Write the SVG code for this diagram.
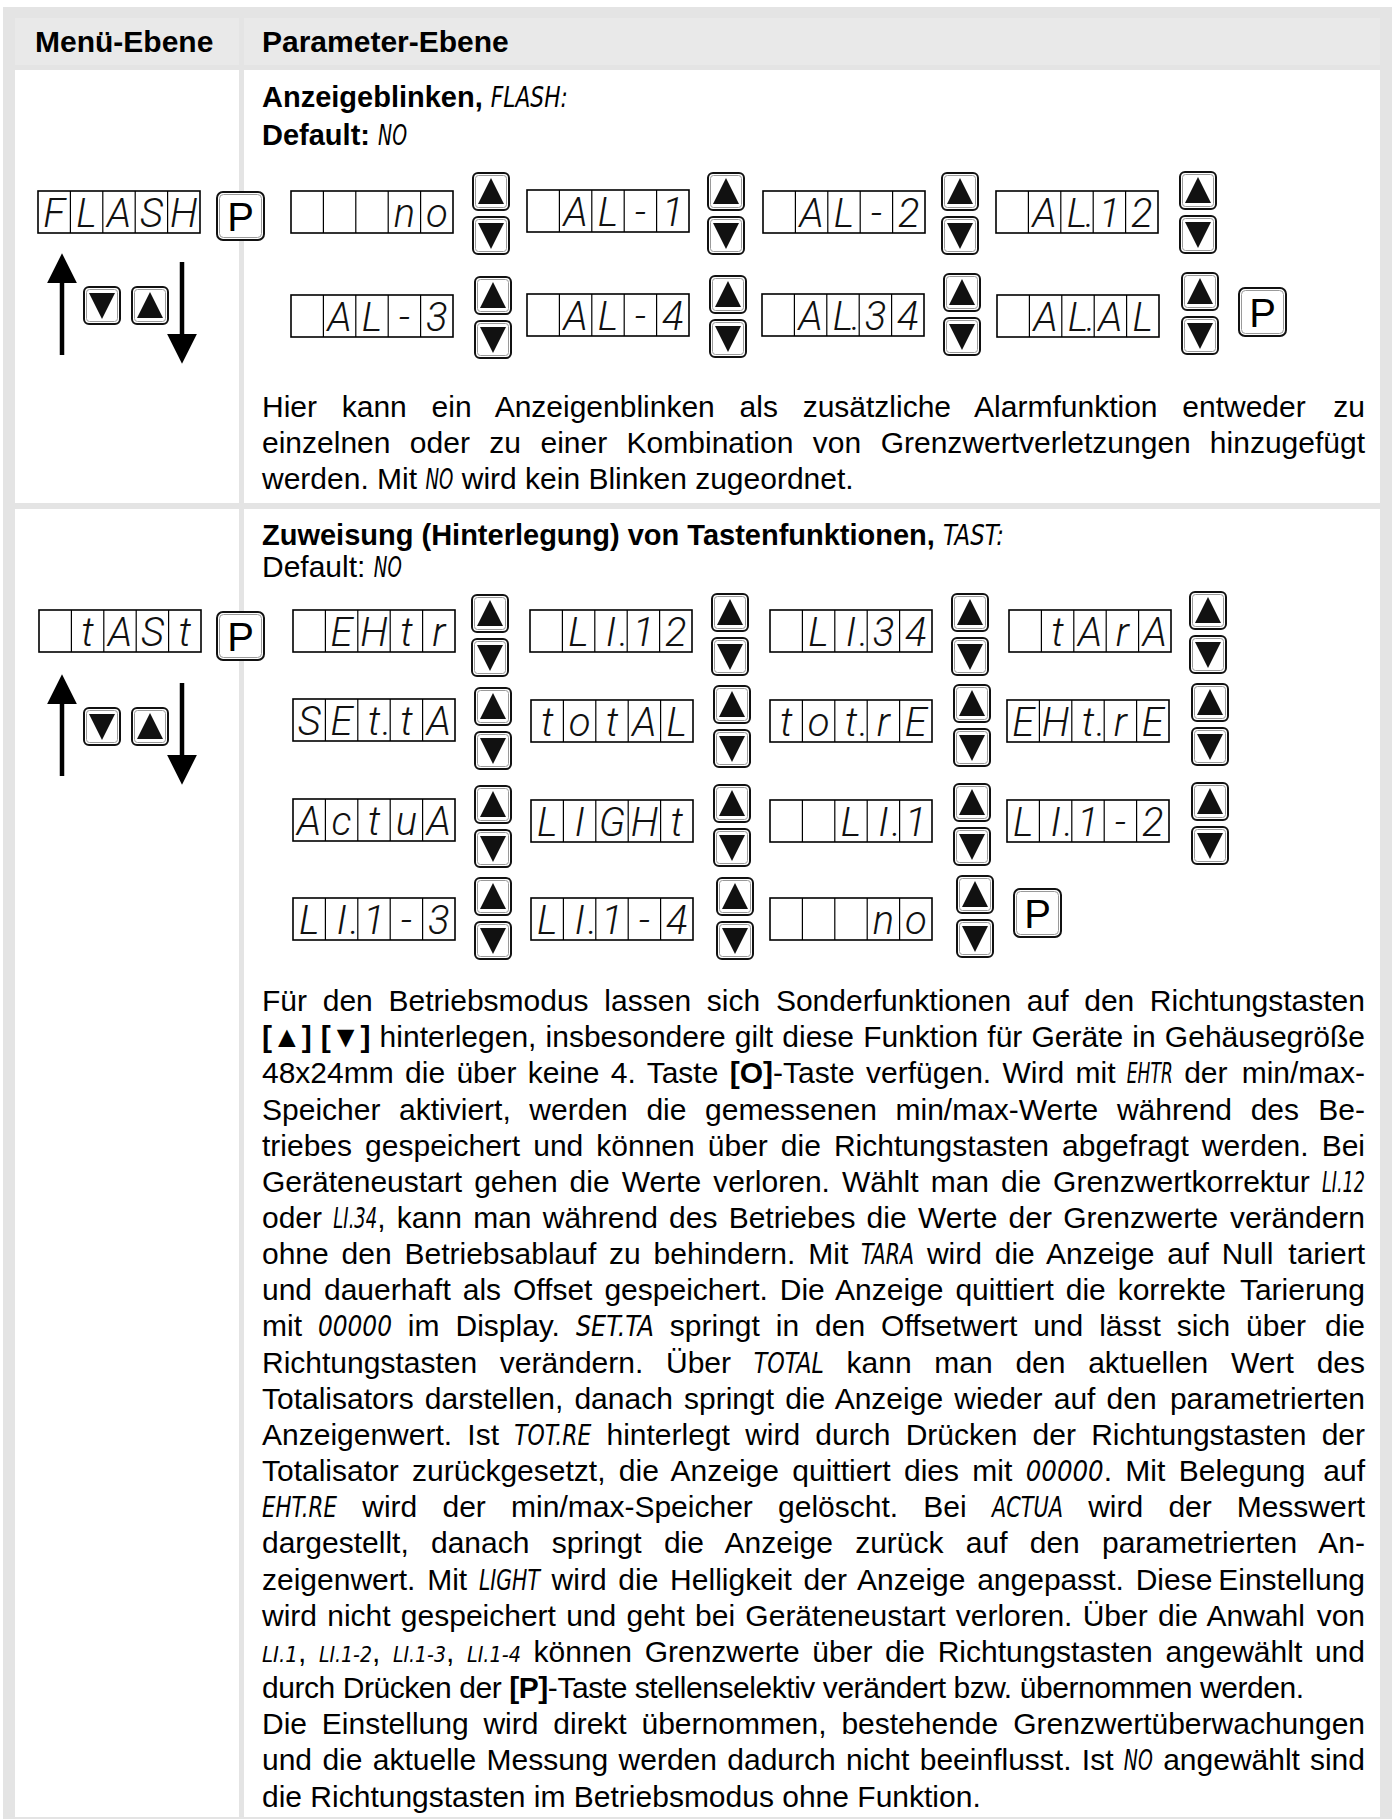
<svg xmlns="http://www.w3.org/2000/svg" width="1394" height="1819" viewBox="0 0 1394 1819">
<style>
.bg{fill:#e4e4e4}
.hc{fill:#e9e9e9}
.wc{fill:#fff}
text{font-family:"Liberation Sans",Arial,Helvetica,sans-serif;fill:#000}
.h{font-size:30px;font-weight:bold}
.ti{font-size:29px;font-weight:bold}
.tx{font-size:30px}
.e{text-anchor:end}
.bd{font-weight:bold}
.lc{font-family:"DejaVu Sans Condensed","DejaVu Sans",sans-serif;font-style:oblique;font-size:28px;font-weight:normal}
.ls{font-size:22px}
.sg{font-family:Roboto,"DejaVu Sans Condensed",sans-serif;font-style:italic;font-weight:300;font-size:40px;text-anchor:middle;fill:#111}
.df{fill:#fff;stroke:#000;stroke-width:1.6}
.dl{fill:none;stroke:#000;stroke-width:1.2}
.kb{fill:#fff;stroke:#111;stroke-width:2}
.ki{fill:none;stroke:#9a9a9a;stroke-width:1}
.tri{fill:#111}
.pt{font-size:40px;text-anchor:middle}
.ar{stroke:#000;stroke-width:4.5;fill:none}
</style>
<defs>
<marker id="ah" viewBox="0 0 10 10" refX="2" refY="5" markerWidth="6.6" markerHeight="6.6" orient="auto" markerUnits="strokeWidth"><path d="M0,0 L10,5 L0,10 Z" fill="#000"/></marker>
<g id="disp"><rect x="0" y="0" width="162" height="42" class="df"/><path d="M32.4 0V42M64.8 0V42M97.2 0V42M129.6 0V42" class="dl"/></g>
<g id="ku"><rect x="1" y="1" width="36" height="37" rx="5" class="kb"/><rect x="3.5" y="3.5" width="31" height="32" rx="3" class="ki"/><polygon points="19,6 6,32 32,32" class="tri"/></g>
<g id="kd"><rect x="1" y="1" width="36" height="37" rx="5" class="kb"/><rect x="3.5" y="3.5" width="31" height="32" rx="3" class="ki"/><polygon points="6,7 32,7 19,33" class="tri"/></g>
<g id="ud"><use href="#ku"/><use href="#kd" y="44"/></g>
<g id="pkey"><rect x="1" y="1" width="47" height="48" rx="6" class="kb"/><rect x="3.5" y="3.5" width="42" height="43" rx="4" class="ki"/></g>
</defs>

<g id="table">
<rect x="3" y="7" width="1389" height="1812" class="bg"/>
<rect x="15" y="18" width="224" height="47" class="hc"/>
<rect x="244" y="18" width="1136" height="47" class="hc"/>
<rect x="15" y="70" width="224" height="433" class="wc"/>
<rect x="244" y="70" width="1136" height="433" class="wc"/>
<rect x="15" y="509" width="224" height="1308" class="wc"/>
<rect x="244" y="509" width="1136" height="1308" class="wc"/>
<text class="h" x="35" y="52">Menü-Ebene</text>
<text class="h" x="262" y="52">Parameter-Ebene</text>
</g>

<g id="section1-text">
<text class="ti" x="262" y="107">Anzeigeblinken, <tspan class="lc" textLength="77" lengthAdjust="spacingAndGlyphs">FLASH:</tspan></text>
<text class="ti" x="262" y="145">Default: <tspan class="lc" textLength="29" lengthAdjust="spacingAndGlyphs">NO</tspan></text>
<g><text class="tx" x="262" y="417" style="word-spacing:16.4px">Hier kann ein Anzeigenblinken als zusätzliche Alarmfunktion entweder</text><text class="tx e" x="1365" y="417">zu</text></g>
<g><text class="tx" x="262" y="453" style="word-spacing:11.1px">einzelnen oder zu einer Kombination von Grenzwertverletzungen</text><text class="tx e" x="1365" y="453">hinzugefügt</text></g>
<text class="tx" x="262" y="489">werden. Mit <tspan class="lc" textLength="28" lengthAdjust="spacingAndGlyphs">NO</tspan> wird kein Blinken zugeordnet.</text>
</g>

<g id="connectors">
<line x1="62" y1="355" x2="62" y2="277" class="ar" marker-end="url(#ah)"/>
<line x1="182" y1="262" x2="182" y2="340" class="ar" marker-end="url(#ah)"/>
<line x1="62" y1="776" x2="62" y2="698" class="ar" marker-end="url(#ah)"/>
<line x1="182" y1="683" x2="182" y2="761" class="ar" marker-end="url(#ah)"/>
</g>

<g id="n-flash" transform="translate(38,191)"><use href="#disp"/><text class="sg" x="16.2 48.6 81 113.4 145.8" y="36">FLASH</text></g>
<g id="n-p1" transform="translate(216,191)"><use href="#pkey"/><text class="pt" x="24.5" y="40">P</text></g>
<g id="n-nav1"><use href="#kd" x="83" y="286"/><use href="#ku" x="131" y="286"/></g>

<g id="n-no1" transform="translate(291,191)"><use href="#disp"/><text class="sg" x="113.4 145.8" y="36">no</text></g>
<g id="k1a1"><use href="#ud" x="472" y="172"/></g>
<g id="n-al1" transform="translate(527,190)"><use href="#disp"/><text class="sg" x="48.6 81 113.4 145.8" y="36">AL-1</text></g>
<g id="k1a2"><use href="#ud" x="707" y="172"/></g>
<g id="n-al2" transform="translate(763,191)"><use href="#disp"/><text class="sg" x="48.6 81 113.4 145.8" y="36">AL-2</text></g>
<g id="k1a3"><use href="#ud" x="941" y="172"/></g>
<g id="n-al12" transform="translate(996,191)"><use href="#disp"/><text class="sg" x="48.6 81 94 113.4 145.8" y="36">AL.12</text></g>
<g id="k1a4"><use href="#ud" x="1179" y="171"/></g>

<g id="n-al3" transform="translate(291,295)"><use href="#disp"/><text class="sg" x="48.6 81 113.4 145.8" y="36">AL-3</text></g>
<g id="k1b1"><use href="#ud" x="474" y="276"/></g>
<g id="n-al4" transform="translate(527,294)"><use href="#disp"/><text class="sg" x="48.6 81 113.4 145.8" y="36">AL-4</text></g>
<g id="k1b2"><use href="#ud" x="709" y="275"/></g>
<g id="n-al34" transform="translate(762,294)"><use href="#disp"/><text class="sg" x="48.6 81 94 113.4 145.8" y="36">AL.34</text></g>
<g id="k1b3"><use href="#ud" x="943" y="273"/></g>
<g id="n-alal" transform="translate(997,295)"><use href="#disp"/><text class="sg" x="48.6 81 94 113.4 145.8" y="36">AL.AL</text></g>
<g id="k1b4"><use href="#ud" x="1181" y="272"/></g>
<g id="n-p2" transform="translate(1238,287)"><use href="#pkey"/><text class="pt" x="24.5" y="40">P</text></g>

<g id="section2-head">
<text class="ti" x="262" y="545">Zuweisung (Hinterlegung) von Tastenfunktionen, <tspan class="lc" textLength="61" lengthAdjust="spacingAndGlyphs">TAST:</tspan></text>
<text class="tx" x="262" y="577" font-size="29">Default: <tspan class="lc" textLength="28" lengthAdjust="spacingAndGlyphs">NO</tspan></text>
</g>

<g id="n-tast" transform="translate(39,610)"><use href="#disp"/><text class="sg" x="48.6 81 113.4 145.8" y="36">tASt</text></g>
<g id="n-p3" transform="translate(216,611)"><use href="#pkey"/><text class="pt" x="24.5" y="40">P</text></g>
<g id="n-nav2"><use href="#kd" x="83" y="707"/><use href="#ku" x="131" y="707"/></g>

<g id="n-ehtr" transform="translate(293,610)"><use href="#disp"/><text class="sg" x="48.6 81 113.4 145.8" y="36">EHtr</text></g>
<g id="k2a1"><use href="#ud" x="471" y="594"/></g>
<g id="n-li12" transform="translate(530,610)"><use href="#disp"/><text class="sg" x="48.6 81 94 113.4 145.8" y="36">LI.12</text></g>
<g id="k2a2"><use href="#ud" x="711" y="593"/></g>
<g id="n-li34" transform="translate(770,610)"><use href="#disp"/><text class="sg" x="48.6 81 94 113.4 145.8" y="36">LI.34</text></g>
<g id="k2a3"><use href="#ud" x="951" y="593"/></g>
<g id="n-tara" transform="translate(1009,610)"><use href="#disp"/><text class="sg" x="48.6 81 113.4 145.8" y="36">tArA</text></g>
<g id="k2a4"><use href="#ud" x="1189" y="591"/></g>

<g id="n-setta" transform="translate(293,699)"><use href="#disp"/><text class="sg" x="16.2 48.6 81 94 113.4 145.8" y="36">SEt.tA</text></g>
<g id="k2b1"><use href="#ud" x="474" y="687"/></g>
<g id="n-total" transform="translate(531,700)"><use href="#disp"/><text class="sg" x="16.2 48.6 81 113.4 145.8" y="36">totAL</text></g>
<g id="k2b2"><use href="#ud" x="713" y="685"/></g>
<g id="n-totre" transform="translate(770,700)"><use href="#disp"/><text class="sg" x="16.2 48.6 81 94 113.4 145.8" y="36">tot.rE</text></g>
<g id="k2b3"><use href="#ud" x="953" y="684"/></g>
<g id="n-ehtre" transform="translate(1007,700)"><use href="#disp"/><text class="sg" x="16.2 48.6 81 94 113.4 145.8" y="36">EHt.rE</text></g>
<g id="k2b4"><use href="#ud" x="1191" y="683"/></g>

<g id="n-actua" transform="translate(293,799)"><use href="#disp"/><text class="sg" x="16.2 48.6 81 113.4 145.8" y="36">ActuA</text></g>
<g id="k2c1"><use href="#ud" x="474" y="785"/></g>
<g id="n-light" transform="translate(531,800)"><use href="#disp"/><text class="sg" x="16.2 48.6 81 113.4 145.8" y="36">LIGHt</text></g>
<g id="k2c2"><use href="#ud" x="713" y="784"/></g>
<g id="n-li1" transform="translate(770,800)"><use href="#disp"/><text class="sg" x="81 113.4 126.4 145.8" y="36">LI.1</text></g>
<g id="k2c3"><use href="#ud" x="953" y="783"/></g>
<g id="n-li1-2" transform="translate(1007,800)"><use href="#disp"/><text class="sg" x="16.2 48.6 61.6 81 113.4 145.8" y="36">LI.1-2</text></g>
<g id="k2c4"><use href="#ud" x="1191" y="782"/></g>

<g id="n-li1-3" transform="translate(293,898)"><use href="#disp"/><text class="sg" x="16.2 48.6 61.6 81 113.4 145.8" y="36">LI.1-3</text></g>
<g id="k2d1"><use href="#ud" x="474" y="877"/></g>
<g id="n-li1-4" transform="translate(531,898)"><use href="#disp"/><text class="sg" x="16.2 48.6 61.6 81 113.4 145.8" y="36">LI.1-4</text></g>
<g id="k2d2"><use href="#ud" x="716" y="877"/></g>
<g id="n-no2" transform="translate(770,898)"><use href="#disp"/><text class="sg" x="113.4 145.8" y="36">no</text></g>
<g id="k2d3"><use href="#ud" x="956" y="875"/></g>
<g id="n-p4" transform="translate(1013,888)"><use href="#pkey"/><text class="pt" x="24.5" y="40">P</text></g>

<g id="section2-text">
<g><text class="tx" x="262" y="1011" style="word-spacing:7.4px">Für den Betriebsmodus lassen sich Sonderfunktionen auf den</text><text class="tx e" x="1365" y="1011">Richtungstasten</text></g>
<g><text class="tx" x="262" y="1047.2" style="word-spacing:0.8px"><tspan class="bd">[▲] [▼]</tspan> hinterlegen, insbesondere gilt diese Funktion für Geräte in</text><text class="tx e" x="1365" y="1047.2">Gehäusegröße</text></g>
<g><text class="tx" x="262" y="1083.3" style="word-spacing:3px">48x24mm die über keine 4. Taste <tspan class="bd">[O]</tspan>-Taste verfügen. Wird mit <tspan class="lc" textLength="46" lengthAdjust="spacingAndGlyphs">EHTR</tspan> der</text><text class="tx e" x="1365" y="1083.3">min/max-</text></g>
<g><text class="tx" x="262" y="1119.5" style="word-spacing:10.3px">Speicher aktiviert, werden die gemessenen min/max-Werte während des</text><text class="tx e" x="1365" y="1119.5">Be-</text></g>
<g><text class="tx" x="262" y="1155.6" style="word-spacing:4.7px">triebes gespeichert und können über die Richtungstasten abgefragt werden.</text><text class="tx e" x="1365" y="1155.6">Bei</text></g>
<g><text class="tx" x="262" y="1191.8" style="word-spacing:3.7px">Geräteneustart gehen die Werte verloren. Wählt man die Grenzwertkorrektur</text><text class="tx e" x="1365" y="1191.8"><tspan class="lc" textLength="43" lengthAdjust="spacingAndGlyphs">LI.12</tspan></text></g>
<g><text class="tx" x="262" y="1228" style="word-spacing:2.9px">oder <tspan class="lc" textLength="44" lengthAdjust="spacingAndGlyphs">LI.34</tspan>, kann man während des Betriebes die Werte der Grenzwerte</text><text class="tx e" x="1365" y="1228">verändern</text></g>
<g><text class="tx" x="262" y="1264.1" style="word-spacing:4.5px">ohne den Betriebsablauf zu behindern. Mit <tspan class="lc" textLength="53" lengthAdjust="spacingAndGlyphs">TARA</tspan> wird die Anzeige auf Null</text><text class="tx e" x="1365" y="1264.1">tariert</text></g>
<g><text class="tx" x="262" y="1300.3" style="word-spacing:3.6px">und dauerhaft als Offset gespeichert. Die Anzeige quittiert die korrekte</text><text class="tx e" x="1365" y="1300.3">Tarierung</text></g>
<g><text class="tx" x="262" y="1336.4" style="word-spacing:7.6px">mit <tspan class="lc" textLength="74" lengthAdjust="spacingAndGlyphs">00000</tspan> im Display. <tspan class="lc" textLength="78" lengthAdjust="spacingAndGlyphs">SET.TA</tspan> springt in den Offsetwert und lässt sich über</text><text class="tx e" x="1365" y="1336.4">die</text></g>
<g><text class="tx" x="262" y="1372.6" style="word-spacing:14.4px">Richtungstasten verändern. Über <tspan class="lc" textLength="70" lengthAdjust="spacingAndGlyphs">TOTAL</tspan> kann man den aktuellen Wert</text><text class="tx e" x="1365" y="1372.6">des</text></g>
<g><text class="tx" x="262" y="1408.8" style="word-spacing:2.8px">Totalisators darstellen, danach springt die Anzeige wieder auf den</text><text class="tx e" x="1365" y="1408.8">parametrierten</text></g>
<g><text class="tx" x="262" y="1444.9" style="word-spacing:6.9px">Anzeigenwert. Ist <tspan class="lc" textLength="77" lengthAdjust="spacingAndGlyphs">TOT.RE</tspan> hinterlegt wird durch Drücken der Richtungstasten</text><text class="tx e" x="1365" y="1444.9">der</text></g>
<g><text class="tx" x="262" y="1481.1" style="word-spacing:5px">Totalisator zurückgesetzt, die Anzeige quittiert dies mit <tspan class="lc" textLength="78" lengthAdjust="spacingAndGlyphs">00000</tspan>. Mit Belegung</text><text class="tx e" x="1365" y="1481.1">auf</text></g>
<g><text class="tx" x="262" y="1517.2" style="word-spacing:16.9px"><tspan class="lc" textLength="75" lengthAdjust="spacingAndGlyphs">EHT.RE</tspan> wird der min/max-Speicher gelöscht. Bei <tspan class="lc" textLength="71" lengthAdjust="spacingAndGlyphs">ACTUA</tspan> wird der</text><text class="tx e" x="1365" y="1517.2">Messwert</text></g>
<g><text class="tx" x="262" y="1553.4" style="word-spacing:13.9px">dargestellt, danach springt die Anzeige zurück auf den parametrierten</text><text class="tx e" x="1365" y="1553.4">An-</text></g>
<g><text class="tx" x="262" y="1589.6" style="word-spacing:3.4px">zeigenwert. Mit <tspan class="lc" textLength="61" lengthAdjust="spacingAndGlyphs">LIGHT</tspan> wird die Helligkeit der Anzeige angepasst. Diese</text><text class="tx e" x="1365" y="1589.6">Einstellung</text></g>
<g><text class="tx" x="262" y="1625.7" style="word-spacing:1.9px">wird nicht gespeichert und geht bei Geräteneustart verloren. Über die Anwahl</text><text class="tx e" x="1365" y="1625.7">von</text></g>
<g><text class="tx" x="262" y="1661.9" style="word-spacing:4.3px"><tspan class="lc ls" textLength="36" lengthAdjust="spacingAndGlyphs">LI.1</tspan>, <tspan class="lc ls" textLength="53" lengthAdjust="spacingAndGlyphs">LI.1-2</tspan>, <tspan class="lc ls" textLength="53" lengthAdjust="spacingAndGlyphs">LI.1-3</tspan>, <tspan class="lc ls" textLength="54" lengthAdjust="spacingAndGlyphs">LI.1-4</tspan> können Grenzwerte über die Richtungstasten angewählt</text><text class="tx e" x="1365" y="1661.9">und</text></g>
<text class="tx" x="262" y="1698" textLength="1042" lengthAdjust="spacing">durch Drücken der <tspan class="bd">[P]</tspan>-Taste stellenselektiv verändert bzw. übernommen werden.</text>
<g><text class="tx" x="262" y="1734.2" style="word-spacing:6.5px">Die Einstellung wird direkt übernommen, bestehende</text><text class="tx e" x="1365" y="1734.2">Grenzwertüberwachungen</text></g>
<g><text class="tx" x="262" y="1770.4" style="word-spacing:2px">und die aktuelle Messung werden dadurch nicht beeinflusst. Ist <tspan class="lc" textLength="29" lengthAdjust="spacingAndGlyphs">NO</tspan> angewählt</text><text class="tx e" x="1365" y="1770.4">sind</text></g>
<text class="tx" x="262" y="1806.5">die Richtungstasten im Betriebsmodus ohne Funktion.</text>
</g>
</svg>
